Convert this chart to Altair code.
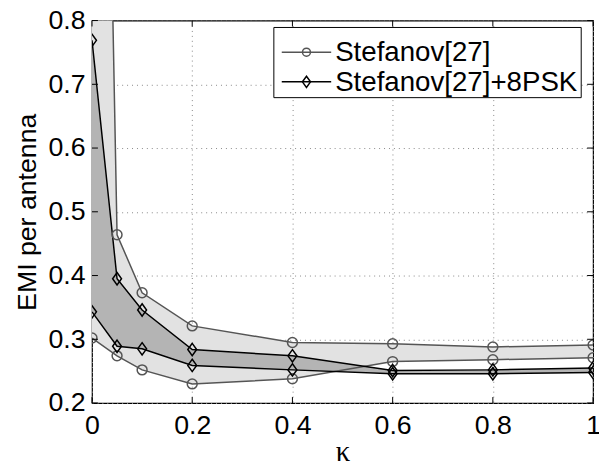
import altair as alt
import pandas as pd

kappa = [0, 0.05, 0.1, 0.2, 0.4, 0.6, 0.8, 1.0]
stef_upper = [2.5, 0.464, 0.373, 0.321, 0.295, 0.293, 0.288, 0.291]
stef_lower = [0.302, 0.274, 0.252, 0.230, 0.238, 0.265, 0.268, 0.271]
psk_upper = [0.769, 0.395, 0.346, 0.284, 0.274, 0.251, 0.252, 0.255]
psk_lower = [0.343, 0.289, 0.285, 0.259, 0.252, 0.246, 0.246, 0.248]
x_ticks = [0, 0.2, 0.4, 0.6, 0.8, 1]
y_ticks = [0.2, 0.3, 0.4, 0.5, 0.6, 0.7, 0.8]
series_labels = ["Stefanov[27]", "Stefanov[27]+8PSK"]

df = pd.DataFrame({"k": kappa, "su": stef_upper, "sl": stef_lower,
                   "pu": psk_upper, "pl": psk_lower})
xt = pd.DataFrame({"t": x_ticks})
yt = pd.DataFrame({"t": y_ticks})
one = pd.DataFrame({"a": [0]})

W, H = 507, 387
FONT = "Liberation Sans"
FS = 27
GRAY = "#555555"
LIGHT = "#e2e2e2"
DARK = "#b4b4b4"
DIAMOND = "M0,-1L0.72,0L0,1L-0.72,0Z"

xs = alt.Scale(domain=[0, 1], nice=False, zero=False)
ys = alt.Scale(domain=[0.2, 0.8], nice=False, zero=False)

xax = alt.Axis(values=x_ticks, format="~g", labelPadding=10, labelFlush=False, grid=True,
               titleFont="Liberation Serif", titleFontSize=29, titleFontWeight="normal",
               titleX=W / 2, titleY=58, titleBaseline="alphabetic")
yax = alt.Axis(values=y_ticks, format=".1f", labelPadding=7, labelFlush=False, grid=True,
               titleFont=FONT, titleFontSize=FS, titleFontWeight="normal",
               titleX=-65, titleY=H / 2, titleBaseline="middle", titleAngle=270)

X = alt.X("k:Q", scale=xs, axis=xax, title="κ")
Y = alt.Y("su:Q", scale=ys, axis=yax, title="EMI per antenna")

base = alt.Chart(df)

band1 = base.mark_area(clip=True, color=LIGHT, opacity=1).encode(x=X, y=Y, y2="sl:Q")
band2 = base.mark_area(clip=True, color=DARK, opacity=1).encode(x="k:Q", y="pu:Q", y2="pl:Q")

def line(col, color):
    return base.mark_line(clip=True, color=color, strokeWidth=1.5).encode(x="k:Q", y=f"{col}:Q")

def pts(col, color, shape, size):
    return base.mark_point(clip=True, color=color, shape=shape, size=size, filled=False,
                           strokeWidth=1.5, opacity=1).encode(x="k:Q", y=f"{col}:Q")

layers = [band1, band2,
          line("su", GRAY), line("sl", GRAY),
          line("pu", "black"), line("pl", "black"),
          pts("su", GRAY, "circle", 100), pts("sl", GRAY, "circle", 100),
          pts("pu", "black", DIAMOND, 156), pts("pl", "black", DIAMOND, 156)]

# inward ticks on all four sides
tick_len = 6
layers += [
    alt.Chart(xt).mark_rule(color="black", strokeWidth=1).encode(
        x=alt.X("t:Q", scale=xs), y=alt.value(H), y2=alt.value(H - tick_len)),
    alt.Chart(xt).mark_rule(color="black", strokeWidth=1).encode(
        x=alt.X("t:Q", scale=xs), y=alt.value(0), y2=alt.value(tick_len)),
    alt.Chart(yt).mark_rule(color="black", strokeWidth=1).encode(
        y=alt.Y("t:Q", scale=ys), x=alt.value(0), x2=alt.value(tick_len)),
    alt.Chart(yt).mark_rule(color="black", strokeWidth=1).encode(
        y=alt.Y("t:Q", scale=ys), x=alt.value(W), x2=alt.value(W - tick_len)),
]

# legend
lx0, lx1, ly0, ly1 = 184, 495, 7, 78
layers.append(alt.Chart(one).mark_rect(fill="white", stroke="black", strokeWidth=1).encode(
    x=alt.value(lx0), x2=alt.value(lx1), y=alt.value(ly0), y2=alt.value(ly1)))
entries = [(32, GRAY, "circle", 64, series_labels[0]),
           (62, "black", DIAMOND, 130, series_labels[1])]
for yy, col, shp, sz, lab in entries:
    layers.append(alt.Chart(one).mark_rule(color=col, strokeWidth=1.5).encode(
        x=alt.value(192), x2=alt.value(242), y=alt.value(yy)))
    layers.append(alt.Chart(one).mark_point(color=col, shape=shp, size=sz, filled=False,
                                            strokeWidth=1.5, opacity=1).encode(
        x=alt.value(217), y=alt.value(yy)))
    layers.append(alt.Chart(one).mark_text(align="left", baseline="middle", font=FONT,
                                           fontSize=28, color="black").encode(
        x=alt.value(246), y=alt.value(yy + 1), text=alt.value(lab)))

chart = alt.layer(*layers).properties(
    width=W, height=H,
    autosize=alt.AutoSizeParams(type="none"),
    padding={"left": 85, "top": 10, "right": 6, "bottom": 60},
).configure_axis(
    labelFont=FONT, labelFontSize=FS, labelColor="black",
    titleFontWeight="normal", titleColor="black",
    domain=False, ticks=False,
    gridDash=[1, 4], gridColor="#888888", gridWidth=1, gridOpacity=1,
).configure_view(stroke="black", strokeWidth=1.2)

chart.save("out.html", embed_options={"renderer": "svg", "actions": False})
